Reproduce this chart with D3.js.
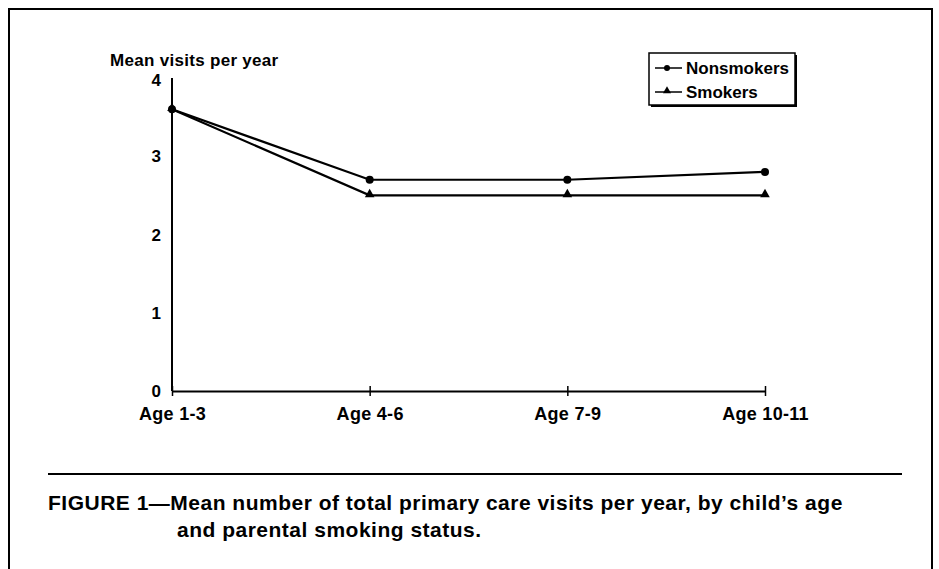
<!DOCTYPE html>
<html><head><meta charset="utf-8">
<script src="https://cdn.jsdelivr.net/npm/d3@7"></script>
<style>body{margin:0;background:#fff}svg{display:block}text{font-family:"Liberation Sans",Arial,sans-serif;font-weight:bold;fill:#000}</style>
</head><body>
<script>
const categories = ["Age 1-3", "Age 4-6", "Age 7-9", "Age 10-11"];
const nonsmokers = [3.6, 2.7, 2.7, 2.8];
const smokers = [3.6, 2.5, 2.5, 2.5];
const yTicks = [0, 1, 2, 3, 4];
const seriesNames = ["Nonsmokers", "Smokers"];
const yTitle = "Mean visits per year";
const captionLines = ["FIGURE 1\u2014Mean number of total primary care visits per year, by child\u2019s age", "and parental smoking status."];

const W = 939, H = 569;
const svg = d3.select("body").append("svg").attr("width", W).attr("height", H);

// frame
svg.append("path").attr("d", `M9,${H} V9 H932 V${H}`).attr("fill", "none").attr("stroke", "#000").attr("stroke-width", 2);

const x = d3.scalePoint().domain(categories).range([172, 765]);
const y = d3.scaleLinear().domain([0, 4]).range([391, 78]);

// y axis line
svg.append("line").attr("x1", 172).attr("x2", 172).attr("y1", y(4)).attr("y2", y(0)).attr("stroke", "#000").attr("stroke-width", 2);
// y tick labels
svg.selectAll(".yt").data(yTicks).enter().append("text")
  .attr("x", 161).attr("y", d => y(d) + (d === 4 ? 8 : 6)).attr("text-anchor", "end")
  .attr("font-size", 17).text(d => d);
svg.append("text").attr("x", 110).attr("y", 66).attr("font-size", 17).attr("letter-spacing", 0.3).text(yTitle);

// x axis
const xAxis = d3.axisBottom(x).tickSizeInner(0).tickSizeOuter(0).tickPadding(16);
const gx = svg.append("g").attr("transform", `translate(0,${y(0)})`).call(xAxis);
gx.select(".domain").attr("stroke", "#000").attr("stroke-width", 2);
gx.selectAll(".tick text").attr("font-size", 18).attr("letter-spacing", 0.3).attr("font-family", "Liberation Sans, Arial, sans-serif").attr("font-weight", "bold").attr("fill", "#000");
gx.selectAll(".tick").append("line").attr("y1", -5).attr("y2", 5).attr("stroke", "#000").attr("stroke-width", 1.5);

const line = d3.line().x((d, i) => x(categories[i])).y(d => y(d));
const tri = d3.symbol().type(d3.symbolTriangle).size(40);

svg.append("path").datum(smokers).attr("d", line).attr("fill", "none").attr("stroke", "#000").attr("stroke-width", 2.2);
svg.append("path").datum(nonsmokers).attr("d", line).attr("fill", "none").attr("stroke", "#000").attr("stroke-width", 2.2);
svg.selectAll(".ns").data(nonsmokers).enter().append("circle")
  .attr("cx", (d, i) => x(categories[i])).attr("cy", d => y(d)).attr("r", 4).attr("fill", "#000");
svg.selectAll(".sm").data(smokers).enter().append("path")
  .attr("d", tri).attr("transform", (d, i) => `translate(${x(categories[i])},${y(d) - 1})`).attr("fill", "#000");

// legend
const lg = svg.append("g");
lg.append("rect").attr("x", 651).attr("y", 55).attr("width", 146).attr("height", 52).attr("fill", "#000");
lg.append("rect").attr("x", 649).attr("y", 53).attr("width", 146).attr("height", 52).attr("fill", "#fff").attr("stroke", "#000").attr("stroke-width", 1.5);
seriesNames.forEach((n, i) => {
  const yy = 68 + i * 24;
  lg.append("line").attr("x1", 655).attr("x2", 682).attr("y1", yy).attr("y2", yy).attr("stroke", "#000").attr("stroke-width", 1.5);
  if (i === 0) lg.append("circle").attr("cx", 667).attr("cy", yy).attr("r", 3).attr("fill", "#000");
  else lg.append("path").attr("d", d3.symbol().type(d3.symbolTriangle).size(28)).attr("transform", `translate(667,${yy - 1})`).attr("fill", "#000");
  lg.append("text").attr("x", 686).attr("y", yy + 6).attr("font-size", 17).text(n);
});

// rule and caption
svg.append("line").attr("x1", 48).attr("x2", 902).attr("y1", 474).attr("y2", 474).attr("stroke", "#000").attr("stroke-width", 2);
svg.append("text").attr("x", 48).attr("y", 510).attr("font-size", 21).attr("letter-spacing", 0.5).text(captionLines[0]);
svg.append("text").attr("x", 177).attr("y", 537).attr("font-size", 21).attr("letter-spacing", 0.5).text(captionLines[1]);
</script>
</body></html>
